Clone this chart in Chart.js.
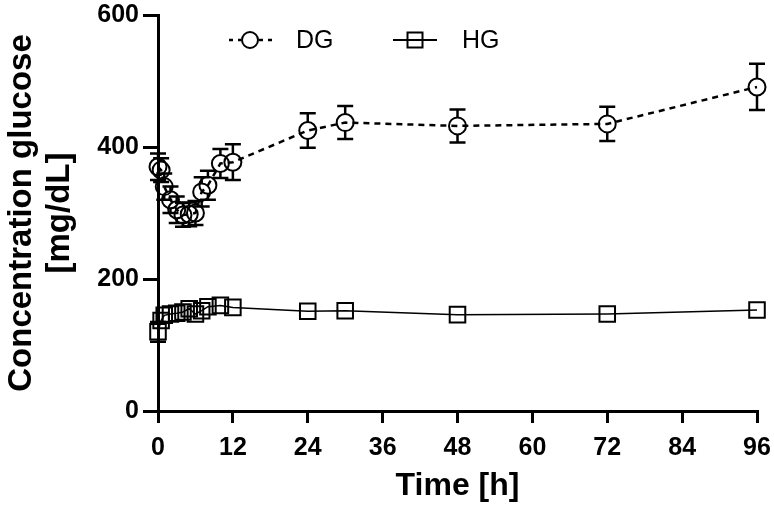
<!DOCTYPE html>
<html>
<head>
<meta charset="utf-8">
<script src="https://cdn.jsdelivr.net/npm/chart.js@4.4.0/dist/chart.umd.min.js"></script>
<style>
  html, body { margin: 0; padding: 0; background: #fff; }
  #wrap { width: 774px; height: 506px; position: relative; }
</style>
</head>
<body>
<div id="wrap"><canvas id="c" width="774" height="506"></canvas></div>
<script>
// ---- data ----
const timeH = [0, 0.5, 1, 2, 3, 4, 5, 6, 7, 8, 10, 12, 24, 30, 48, 72, 96];
const dgMean = [370, 365, 340, 320, 305, 297, 298, 300, 332, 342, 375, 377, 425, 437, 432, 435, 491];
const dgErr  = [20, 18, 20, 20, 20, 18, 18, 18, 22, 22, 22, 27, 26, 25, 25, 26, 35];
const hgMean = [120, 137, 145, 147, 148, 150, 155, 147, 152, 158, 160, 157, 151, 152, 146, 147, 153];
const hgErr  = [15, 8, 8, 8, 8, 8, 8, 8, 8, 8, 8, 8, 6, 6, 6, 6, 6];
const xTicks = [0, 12, 24, 36, 48, 60, 72, 84, 96];
const yTicks = [0, 200, 400, 600];
const seriesNames = ['DG', 'HG'];

const FONT = '"Liberation Sans", Arial, sans-serif';

const errorBars = {
  id: 'errorBars',
  afterDatasetsDraw(chart) {
    const ctx = chart.ctx;
    const ys = chart.scales.y, xs = chart.scales.x;
    chart.data.datasets.forEach((ds) => {
      if (!ds.err) return;
      const r = ds.markerHalf;
      ctx.save();
      ctx.strokeStyle = '#000';
      ctx.lineWidth = 2.5;
      ds.data.forEach((p, i) => {
        const e = ds.err[i];
        const cx = xs.getPixelForValue(p.x);
        const cy = ys.getPixelForValue(p.y);
        const top = ys.getPixelForValue(p.y + e);
        const bot = ys.getPixelForValue(p.y - e);
        ctx.beginPath();
        if (cy - top > r) {
          ctx.moveTo(cx, cy - r); ctx.lineTo(cx, top);
          ctx.moveTo(cx - 8, top); ctx.lineTo(cx + 8, top);
        }
        if (bot - cy > r) {
          ctx.moveTo(cx, cy + r); ctx.lineTo(cx, bot);
          ctx.moveTo(cx - 8, bot); ctx.lineTo(cx + 8, bot);
        }
        ctx.stroke();
      });
      ctx.restore();
    });
  }
};

const legendPlugin = {
  id: 'customLegend',
  afterDraw(chart) {
    const ctx = chart.ctx;
    ctx.save();
    ctx.strokeStyle = '#000';
    ctx.fillStyle = '#000';
    const y = 40;
    // DG
    ctx.lineWidth = 2.5;
    ctx.setLineDash([4, 5]);
    ctx.beginPath();
    ctx.moveTo(229, y); ctx.lineTo(241, y);
    ctx.moveTo(259, y); ctx.lineTo(272, y);
    ctx.stroke();
    ctx.setLineDash([]);
    ctx.lineWidth = 2;
    ctx.beginPath();
    ctx.arc(250, y, 8, 0, Math.PI * 2);
    ctx.stroke();
    // HG
    ctx.lineWidth = 2;
    ctx.beginPath();
    ctx.moveTo(393, y); ctx.lineTo(437, y);
    ctx.stroke();
    ctx.strokeRect(407.5, y - 7.5, 15, 15);
    ctx.font = '25px ' + FONT;
    ctx.textBaseline = 'middle';
    ctx.textAlign = 'left';
    ctx.fillText(seriesNames[0], 296, y + 1);
    ctx.fillText(seriesNames[1], 462, y + 1);
    ctx.restore();
  }
};

const ctx = document.getElementById('c').getContext('2d');
new Chart(ctx, {
  type: 'line',
  data: {
    datasets: [
      {
        label: seriesNames[0],
        data: timeH.map((t, i) => ({x: t, y: dgMean[i]})),
        err: dgErr,
        markerHalf: 8.5,
        borderColor: '#000',
        borderWidth: 2.5,
        borderDash: [6, 5],
        pointStyle: 'circle',
        pointRadius: 8.5,
        pointBorderWidth: 2,
        pointBackgroundColor: 'rgba(0,0,0,0)',
        pointBorderColor: '#000',
        fill: false,
        tension: 0,
        clip: false
      },
      {
        label: seriesNames[1],
        data: timeH.map((t, i) => ({x: t, y: hgMean[i]})),
        err: hgErr,
        markerHalf: 8,
        borderColor: '#000',
        borderWidth: 1.5,
        pointStyle: 'rect',
        pointRadius: 11,
        pointBorderWidth: 2,
        pointBackgroundColor: 'rgba(0,0,0,0)',
        pointBorderColor: '#000',
        fill: false,
        tension: 0,
        clip: false
      }
    ]
  },
  options: {
    responsive: false,
    animation: false,
    devicePixelRatio: 1,
    layout: { padding: { top: 15, right: 17, left: 0, bottom: 0 } },
    plugins: { legend: { display: false }, tooltip: { enabled: false }, title: { display: false } },
    scales: {
      x: {
        type: 'linear',
        min: 0, max: 96,
        afterBuildTicks(s) { s.ticks = xTicks.map(v => ({value: v})); },
        afterFit(s) { s.height = 95; s.paddingLeft = 0; s.paddingRight = 0; },
        border: { display: true, color: '#000', width: 3 },
        grid: { display: true, drawOnChartArea: false, drawTicks: true, tickLength: 12, tickWidth: 3, tickColor: '#000', color: '#000', lineWidth: 3 },
        ticks: { color: '#000', font: { family: FONT, size: 25, weight: 'bold' }, padding: 10, maxRotation: 0, autoSkip: false },
        title: { display: true, text: 'Time [h]', color: '#000', font: { family: FONT, size: 32, weight: 'bold' }, padding: { top: 0, bottom: 1 } }
      },
      y: {
        type: 'linear',
        min: 0, max: 600,
        afterBuildTicks(s) { s.ticks = yTicks.map(v => ({value: v})); },
        afterFit(s) { s.width = 158; s.paddingTop = 0; s.paddingBottom = 0; },
        border: { display: true, color: '#000', width: 3 },
        grid: { display: true, drawOnChartArea: false, drawTicks: true, tickLength: 15, tickWidth: 3, tickColor: '#000', color: '#000', lineWidth: 3 },
        ticks: { color: '#000', font: { family: FONT, size: 25, weight: 'bold' }, padding: 4, autoSkip: false },
        title: { display: true, text: ['Concentration glucose', '[mg/dL]'], color: '#000', font: { family: FONT, size: 33, weight: 'bold', lineHeight: 1.15 }, padding: { top: 3, bottom: 0 } }
      }
    }
  },
  plugins: [errorBars, legendPlugin]
});
</script>
</body>
</html>
